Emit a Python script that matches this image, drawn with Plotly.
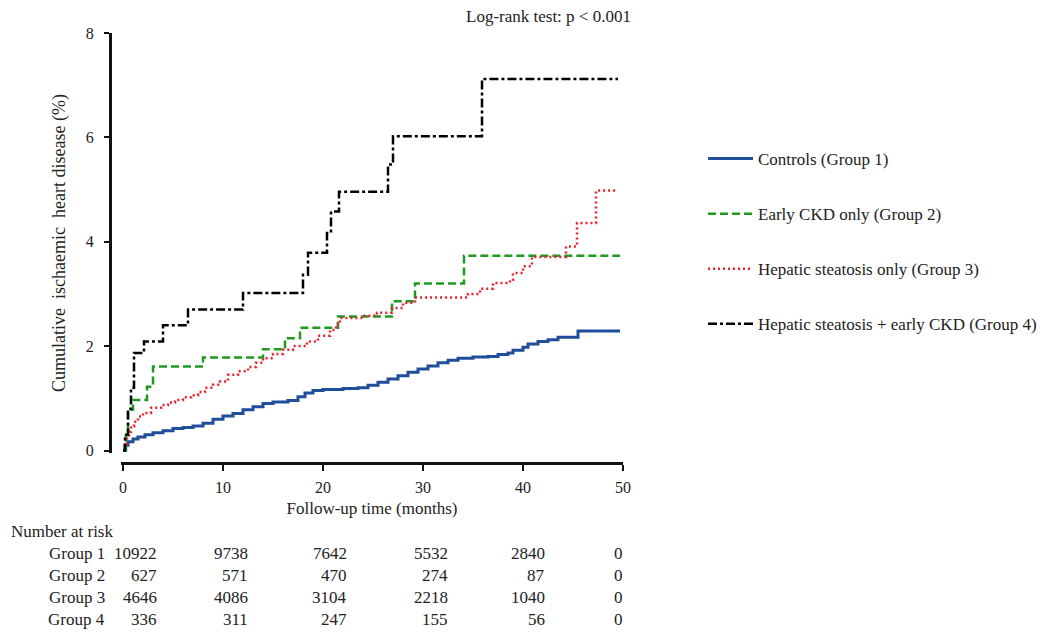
import plotly.graph_objects as go

# page window is 1047x633; the browser body has an 8px margin, so the figure is sized to fit
OFF = 8
W, H = 1047 - OFF, 633 - OFF

# ---------------- data ----------------
g1_t = [0, 0.2, 0.5, 1, 1.5, 2.2, 3, 4, 5, 6, 7, 8, 9, 10, 11, 12, 13, 14, 15, 16.5, 17.5, 18.2, 19, 20, 22,
        23.5, 24.5, 25.5, 26.5, 27.5, 28.5, 29.5, 30.5, 31.5, 32.5, 33.5, 35, 36.5, 37.5, 38.5, 39, 40, 40.5,
        41.5, 42.5, 43.5, 45.5, 49.7]
g1_v = [0, 0.10, 0.17, 0.22, 0.26, 0.30, 0.34, 0.38, 0.42, 0.44, 0.47, 0.52, 0.60, 0.66, 0.71, 0.78, 0.84, 0.90,
        0.93, 0.96, 1.03, 1.10, 1.15, 1.17, 1.19, 1.20, 1.25, 1.31, 1.37, 1.43, 1.50, 1.56, 1.62, 1.68, 1.73,
        1.77, 1.79, 1.80, 1.84, 1.87, 1.92, 1.98, 2.04, 2.09, 2.12, 2.17, 2.29, 2.29]

g2_t = [0, 0.3, 0.5, 1.0, 2.4, 3.0, 8.0, 14.0, 16.2, 17.7, 21.5, 26.9, 29.2, 34.1, 49.7]
g2_v = [0, 0.30, 0.78, 0.97, 1.22, 1.61, 1.78, 1.94, 2.15, 2.35, 2.57, 2.86, 3.20, 3.73, 3.73]

g3_t = [0, 0.2, 0.4, 0.6, 0.8, 1.1, 1.5, 2.0, 2.8, 3.8, 4.5, 5.2, 6.0, 6.8, 7.5, 8.2, 9.0, 9.7, 10.5, 11.5,
        12.5, 13.3, 14.0, 15.0, 16.0, 17.0, 18.4, 19.5, 20.7, 21.3, 21.7, 24.0, 25.4, 26.9, 28.0, 29.2, 34.5,
        35.7, 37.0, 38.7, 39.0, 40.0, 40.9, 44.3, 45.4, 47.3, 49.5]
g3_v = [0, 0.12, 0.25, 0.36, 0.46, 0.55, 0.65, 0.72, 0.82, 0.87, 0.92, 0.97, 1.02, 1.06, 1.12, 1.20, 1.26, 1.32,
        1.45, 1.52, 1.60, 1.68, 1.77, 1.85, 1.93, 2.00, 2.09, 2.20, 2.31, 2.42, 2.54, 2.58, 2.64, 2.73, 2.83,
        2.93, 3.00, 3.10, 3.21, 3.27, 3.40, 3.53, 3.71, 3.91, 4.36, 4.98, 4.98]

g4_t = [0, 0.2, 0.5, 0.8, 1.1, 2.1, 4.0, 6.5, 12.0, 18.0, 18.5, 20.4, 20.8, 21.6, 26.5, 27.0, 35.9, 49.5]
g4_v = [0, 0.30, 0.80, 1.20, 1.87, 2.09, 2.40, 2.70, 3.02, 3.37, 3.79, 4.17, 4.58, 4.96, 5.48, 6.02, 7.12, 7.12]

NB = "\u00a0"
series_names = ["Controls (Group 1)", "Early CKD only (Group 2)",
                "Hepatic steatosis only (Group 3)",
                "Hepatic steatosis + early CKD (Group 4)"]

risk_times = [0, 10, 20, 30, 40, 50]
risk_groups = ["Group 1", "Group 2", "Group 3", "Group 4"]
risk_g1 = [10922, 9738, 7642, 5532, 2840, 0]
risk_g2 = [627, 571, 470, 274, 87, 0]
risk_g3 = [4646, 4086, 3104, 2218, 1040, 0]
risk_g4 = [336, 311, 247, 155, 56, 0]

x_ticks = [0, 10, 20, 30, 40, 50]
y_ticks = [0, 2, 4, 6, 8]

# ---------------- styles ----------------
FONT = "Liberation Serif"
FS = 17
styles = [
    dict(color="#1F4E9B", width=3, dash="solid"),
    dict(color="#1E9A22", width=2.5, dash="8px,4px"),
    dict(color="#E8202A", width=2.5, dash="2px,3px"),
    dict(color="#000000", width=2.5, dash="9px,3px,3px,3px"),
]

fig = go.Figure()
for (t, v), name, st in zip([(g1_t, g1_v), (g2_t, g2_v), (g3_t, g3_v), (g4_t, g4_v)], series_names, styles):
    fig.add_trace(go.Scatter(x=t, y=v, mode="lines", name=name, line=dict(shape="hv", **st),
                             legendgroup=name))

def px_x(p):
    return (p - OFF) / W

def px_y(p):
    return 1 - (p - OFF) / H

x0_px, x50_px = 123, 623
ppu_x = (x50_px - x0_px) / 50
y0_px, y8_px = 450.5, 33
ppu_y = (y0_px - y8_px) / 8
yr_lo = -0.05
ydom_lo = px_y(y0_px + (-yr_lo) * ppu_y)
xr_lo = -0.2
xdom_lo = px_x(x0_px + xr_lo * ppu_x)

def data_x_to_paper(xv):
    return px_x(x0_px + xv * ppu_x)

fig.update_layout(
    width=W, height=H,
    margin=dict(l=0, r=0, t=0, b=0, pad=0, autoexpand=False),
    paper_bgcolor="white", plot_bgcolor="white",
    font=dict(family=FONT, size=FS, color="#222"),
    xaxis=dict(domain=[xdom_lo, px_x(x50_px)], range=[xr_lo, 50], anchor="free", position=px_y(463),
               showline=True, linewidth=3, linecolor="#111", ticks="outside", ticklen=6, tickwidth=2,
               tickcolor="#111", tickvals=x_ticks, showgrid=False, zeroline=False, automargin=False,
               tickfont=dict(size=16), ticklabelstandoff=3,
               title=dict(text="Follow-up time (months)", font=dict(size=FS), standoff=6)),
    yaxis=dict(domain=[ydom_lo, px_y(y8_px)], range=[yr_lo, 8], anchor="free", position=px_x(110),
               showline=True, linewidth=3, linecolor="#111", ticks="outside", ticklen=5, tickwidth=2,
               tickcolor="#111", tickvals=y_ticks, showgrid=False, zeroline=False, automargin=False,
               tickfont=dict(size=16), ticklabelstandoff=7,
               title=dict(text=f"Cumulative{NB} ischaemic{NB} heart disease (%)", font=dict(size=18),
                          standoff=14)),
    legend=dict(x=px_x(703), y=px_y(141), xanchor="left", yanchor="top", font=dict(size=FS),
                traceorder="grouped", tracegroupgap=30, itemwidth=45, bgcolor="rgba(0,0,0,0)"),
)

annotations = []
annotations.append(dict(text="Log-rank test: p < 0.001", xref="paper", yref="paper", x=px_x(633), y=px_y(17),
                        xanchor="right", yanchor="middle", showarrow=False, font=dict(size=FS)))
annotations.append(dict(text="Number at risk", xref="paper", yref="paper", x=px_x(9), y=px_y(531),
                        xanchor="left", yanchor="middle", showarrow=False, font=dict(size=FS)))
row_px = [553, 575, 597, 619]
col_right = [3.55, 12.65, 22.55, 32.65, 42.35, 50.2]
for gname, vals, ry in zip(risk_groups, [risk_g1, risk_g2, risk_g3, risk_g4], row_px):
    annotations.append(dict(text=gname, xref="paper", yref="paper", x=px_x(107), y=px_y(ry),
                            xanchor="right", yanchor="middle", showarrow=False, font=dict(size=FS)))
    for cx, val in zip(col_right, vals):
        annotations.append(dict(text=str(val), xref="paper", yref="paper", x=data_x_to_paper(cx), y=px_y(ry),
                                xanchor="right", yanchor="middle", showarrow=False, font=dict(size=FS)))
fig.update_layout(annotations=annotations)

fig.write_html("out.html")
